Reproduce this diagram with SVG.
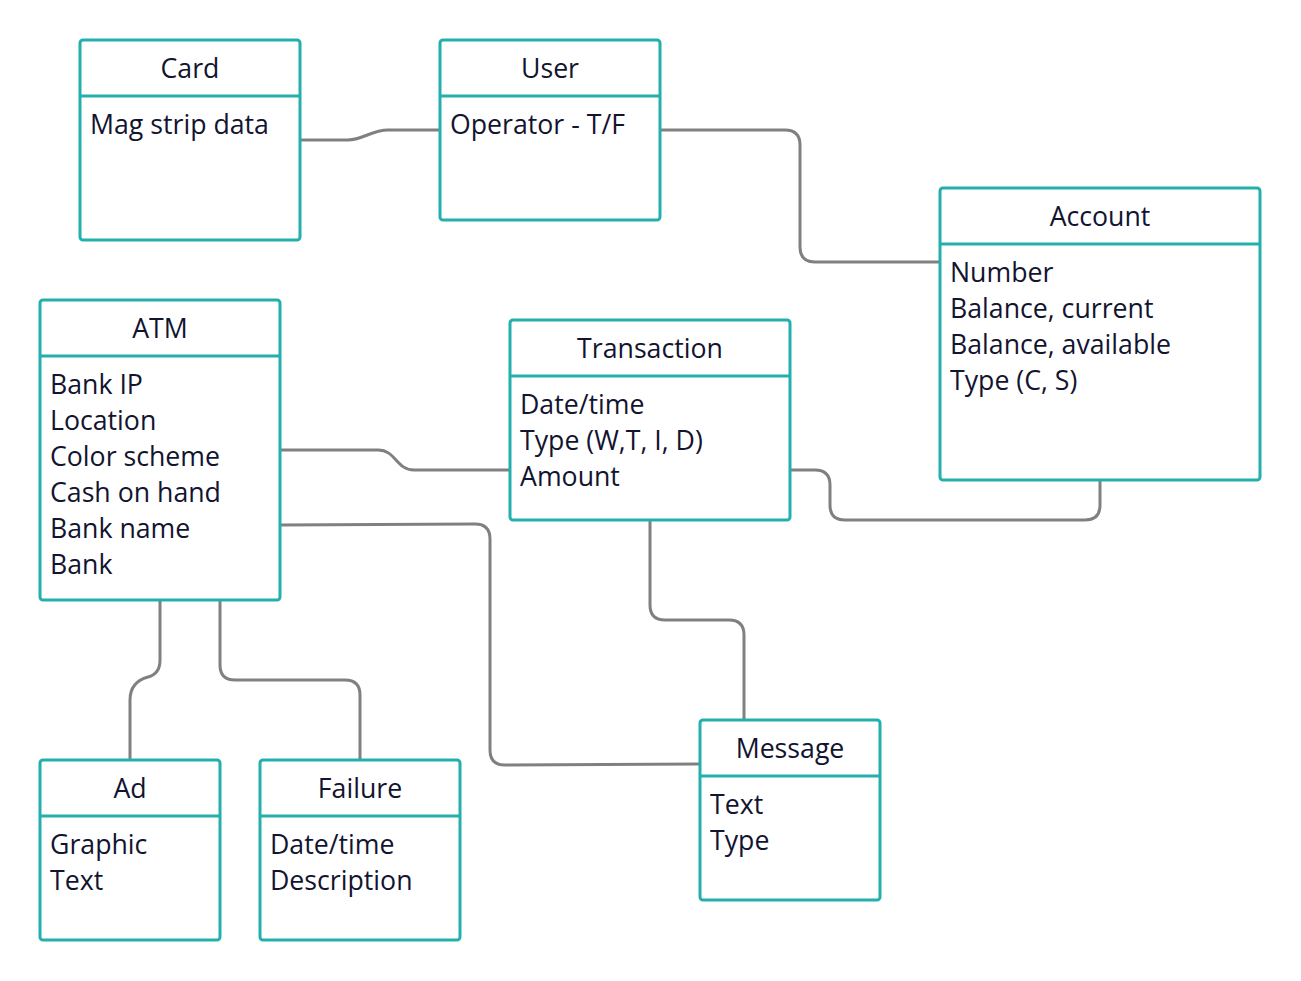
<svg xmlns="http://www.w3.org/2000/svg" width="1301" height="981" viewBox="0 0 1301 981">
<style>
.box{fill:#fff;stroke:#22B0AC;stroke-width:3}
.div{stroke:#22B0AC;stroke-width:3}
.t{font-family:"Open Sans","Noto Sans",sans-serif;font-size:26.7px;fill:#121430}
.c{text-anchor:middle}
.con{fill:none;stroke:#808080;stroke-width:3}
</style>
<rect width="1301" height="981" fill="#fff"/>
<g id="connectors">
<path class="con" d="M300,140 H348 C362,140 372,130 388,130 H440"/>
<path class="con" d="M660,130 H785 Q800,130 800,145 V247 Q800,262 815,262 L940,262"/>
<path class="con" d="M280,450 H378 C396,450 396,470 414,470 H510"/>
<path class="con" d="M280,525 L475,524 Q490,524 490,539 V750 Q490,765 505,765 L700,764"/>
<path class="con" d="M790,470 H815 Q830,470 830,485 V505 Q830,520 845,520 H1085 Q1100,520 1100,505 V480"/>
<path class="con" d="M650,520 V605 Q650,620 665,620 H729 Q744,620 744,635 V720"/>
<path class="con" d="M160,600 V660 Q160,674 148,677 Q130,682 130,700 V760"/>
<path class="con" d="M220,600 V665 Q220,680 235,680 H345 Q360,680 360,695 V760"/>
</g>
<g id="card">
<rect class="box" x="80" y="40" width="220" height="200" rx="3"/>
<line class="div" x1="80" y1="96" x2="300" y2="96"/>
<text class="t c" x="190" y="78">Card</text>
<text class="t" x="90" y="133.5">Mag strip data</text>
</g>
<g id="user">
<rect class="box" x="440" y="40" width="220" height="180" rx="3"/>
<line class="div" x1="440" y1="96" x2="660" y2="96"/>
<text class="t c" x="550" y="78">User</text>
<text class="t" x="450" y="133.5">Operator - T/F</text>
</g>
<g id="account">
<rect class="box" x="940" y="188" width="320" height="292" rx="3"/>
<line class="div" x1="940" y1="244" x2="1260" y2="244"/>
<text class="t c" x="1100" y="226">Account</text>
<text class="t" x="950" y="281.5">Number</text>
<text class="t" x="950" y="317.5">Balance, current</text>
<text class="t" x="950" y="353.5">Balance, available</text>
<text class="t" x="950" y="389.5">Type (C, S)</text>
</g>
<g id="atm">
<rect class="box" x="40" y="300" width="240" height="300" rx="3"/>
<line class="div" x1="40" y1="356" x2="280" y2="356"/>
<text class="t c" x="160" y="338">ATM</text>
<text class="t" x="50" y="393.5">Bank IP</text>
<text class="t" x="50" y="429.5">Location</text>
<text class="t" x="50" y="465.5">Color scheme</text>
<text class="t" x="50" y="501.5">Cash on hand</text>
<text class="t" x="50" y="537.5">Bank name</text>
<text class="t" x="50" y="573.5">Bank</text>
</g>
<g id="transaction">
<rect class="box" x="510" y="320" width="280" height="200" rx="3"/>
<line class="div" x1="510" y1="376" x2="790" y2="376"/>
<text class="t c" x="650" y="358">Transaction</text>
<text class="t" x="520" y="413.5">Date/time</text>
<text class="t" x="520" y="449.5">Type (W,T, I, D)</text>
<text class="t" x="520" y="485.5">Amount</text>
</g>
<g id="ad">
<rect class="box" x="40" y="760" width="180" height="180" rx="3"/>
<line class="div" x1="40" y1="816" x2="220" y2="816"/>
<text class="t c" x="130" y="798">Ad</text>
<text class="t" x="50" y="853.5">Graphic</text>
<text class="t" x="50" y="889.5">Text</text>
</g>
<g id="failure">
<rect class="box" x="260" y="760" width="200" height="180" rx="3"/>
<line class="div" x1="260" y1="816" x2="460" y2="816"/>
<text class="t c" x="360" y="798">Failure</text>
<text class="t" x="270" y="853.5">Date/time</text>
<text class="t" x="270" y="889.5">Description</text>
</g>
<g id="message">
<rect class="box" x="700" y="720" width="180" height="180" rx="3"/>
<line class="div" x1="700" y1="776" x2="880" y2="776"/>
<text class="t c" x="790" y="758">Message</text>
<text class="t" x="710" y="813.5">Text</text>
<text class="t" x="710" y="849.5">Type</text>
</g>
</svg>
